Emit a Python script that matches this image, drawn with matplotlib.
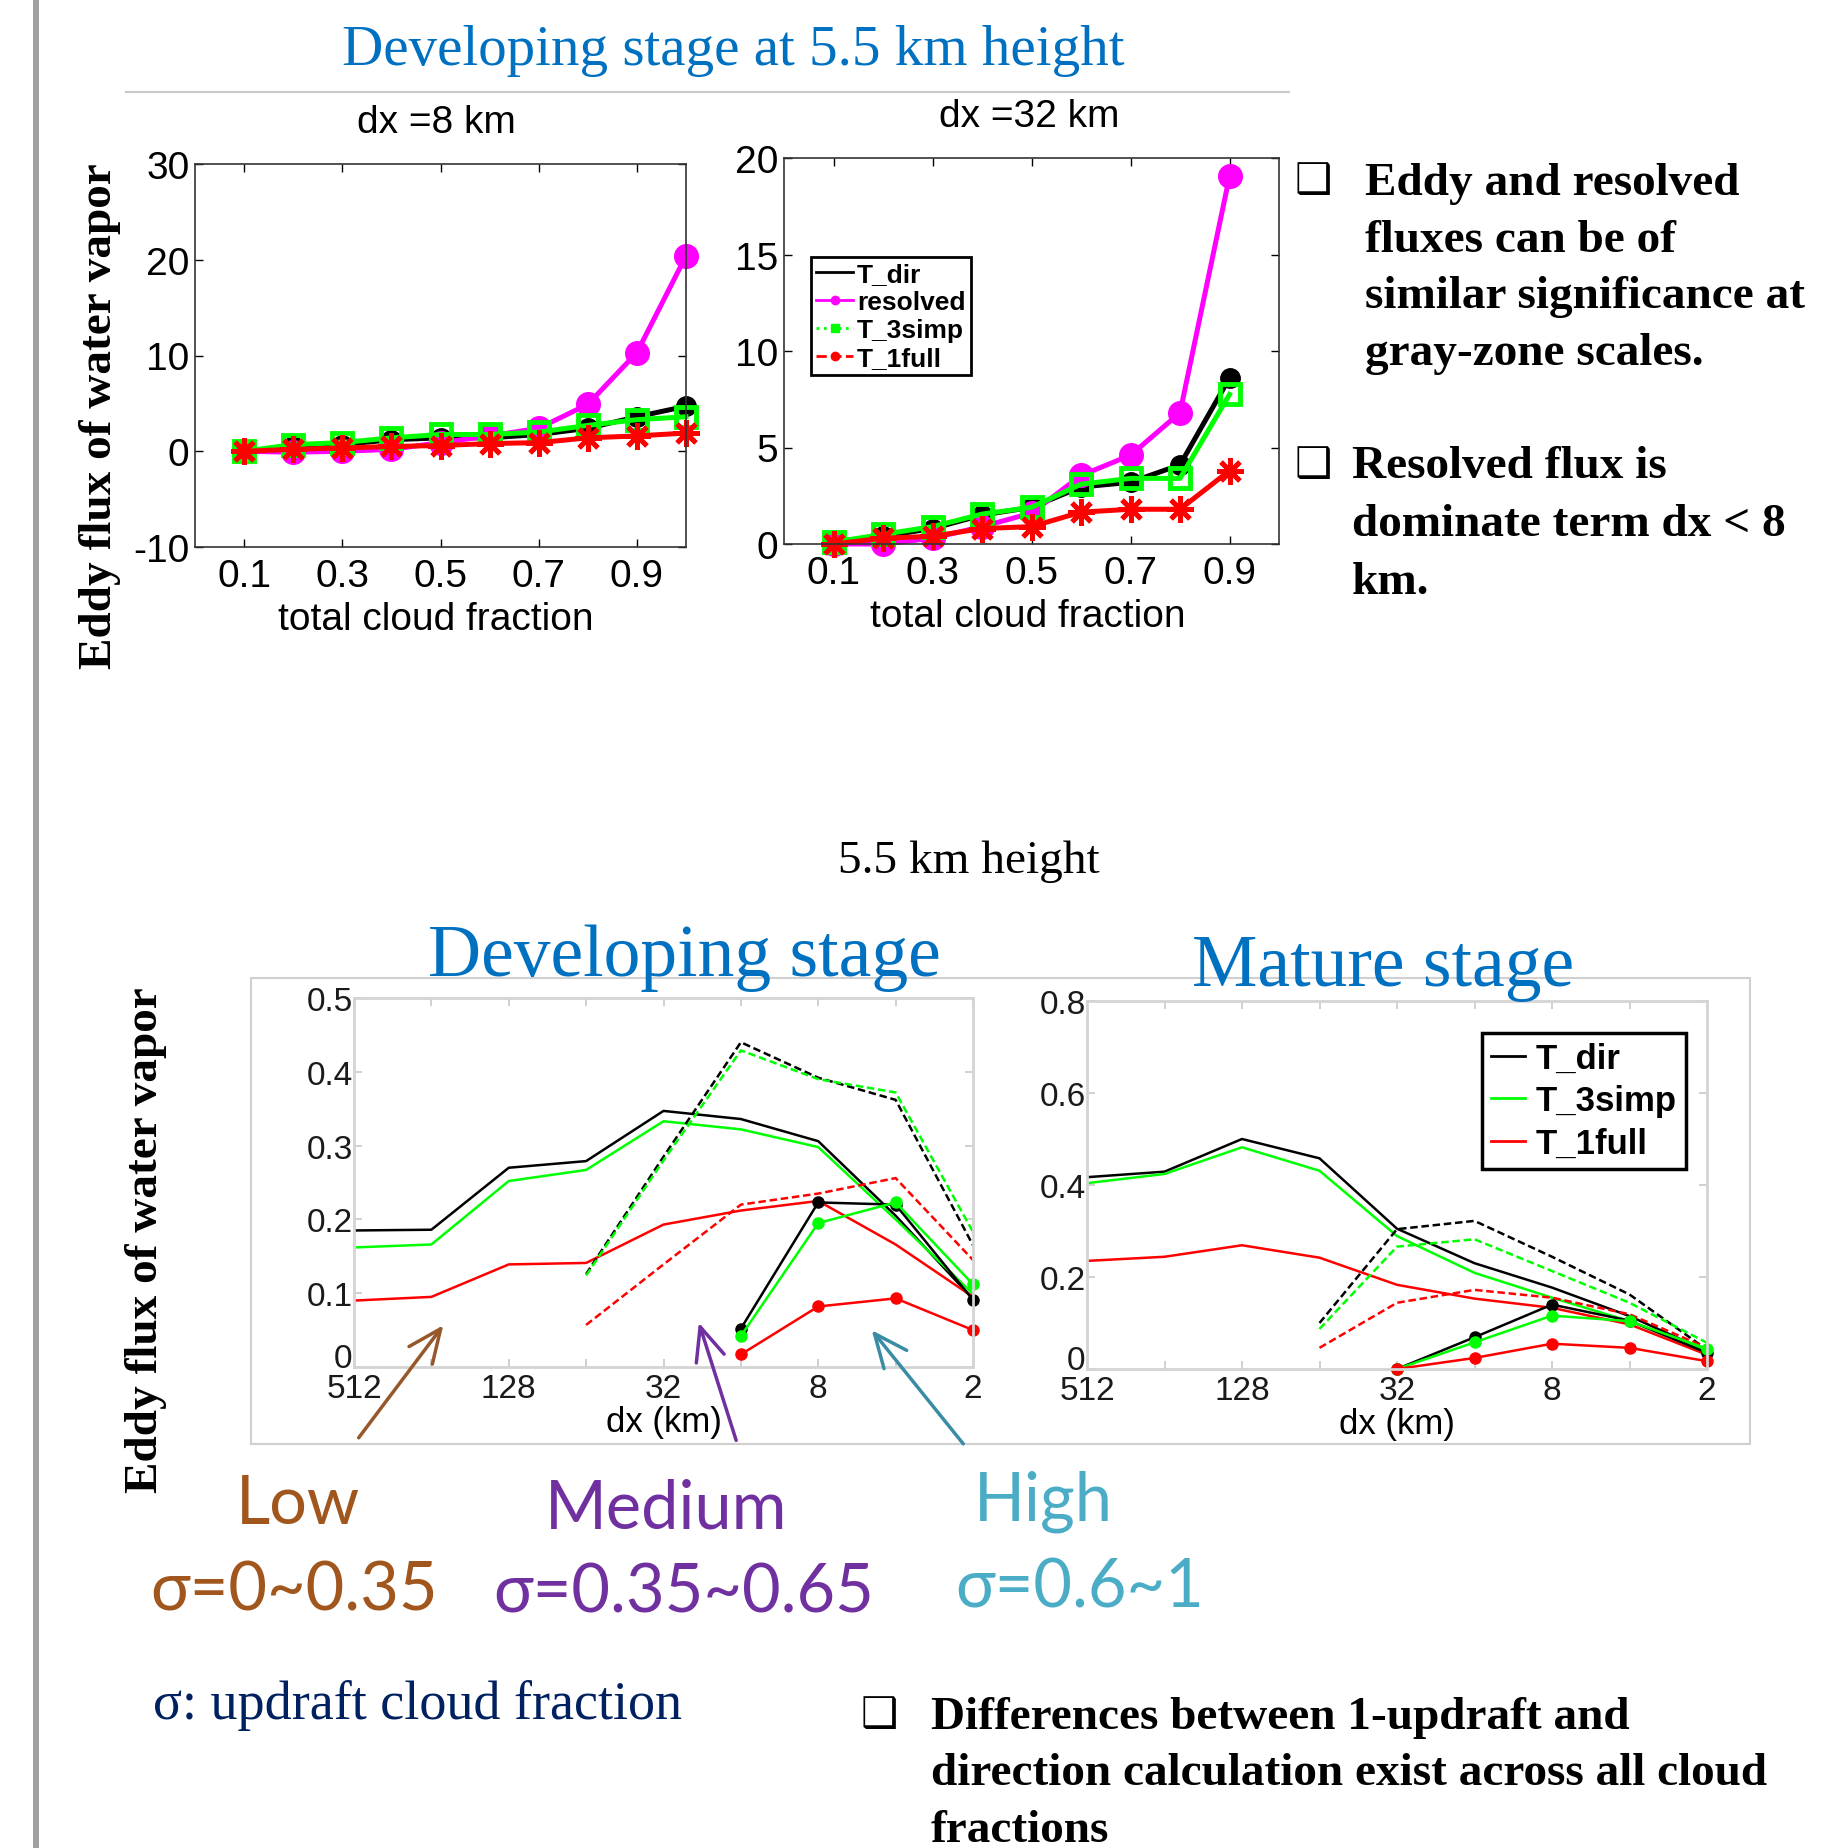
import matplotlib.pyplot as plt
from matplotlib.lines import Line2D
from matplotlib.patches import Rectangle, FancyArrowPatch
from matplotlib.ticker import FixedLocator, NullLocator

W, H = 1836, 1849
plt.rcParams["axes.unicode_minus"] = False

# --- top row: eddy flux vs total cloud fraction ---
cf_8 = [0.1, 0.2, 0.3, 0.4, 0.5, 0.6, 0.7, 0.8, 0.9, 1.0]
tdir_8 = [0.0, 0.5, 0.7, 1.2, 1.4, 1.4, 1.75, 2.4, 3.6, 4.7]
resolved_8 = [0.0, -0.1, 0.0, 0.2, 0.9, 1.6, 2.4, 4.9, 10.3, 20.4]
t3simp_8 = [0.0, 0.7, 0.9, 1.4, 1.75, 1.75, 2.0, 2.7, 3.3, 3.6]
t1full_8 = [0.0, 0.2, 0.35, 0.5, 0.6, 0.8, 0.9, 1.4, 1.6, 1.9]

cf_32 = [0.1, 0.2, 0.3, 0.4, 0.5, 0.6, 0.7, 0.8, 0.9]
tdir_32 = [0.1, 0.4, 0.8, 1.5, 1.9, 2.95, 3.2, 4.1, 8.6]
resolved_32 = [0.0, 0.0, 0.3, 0.9, 1.6, 3.55, 4.6, 6.8, 19.05]
t3simp_32 = [0.1, 0.5, 0.9, 1.55, 1.9, 3.1, 3.4, 3.4, 7.75]
t1full_32 = [0.0, 0.3, 0.4, 0.8, 0.9, 1.65, 1.8, 1.8, 3.8]

# --- bottom row: eddy flux vs grid spacing, 5.5 km ---
dx = [512, 256, 128, 64, 32, 16, 8, 4, 2]
dx_labels = ["512", "", "128", "", "32", "", "8", "", "2"]

# developing stage (low: all dx, medium: from 64 km, high: from 16 km)
dev_low_dir = [0.185, 0.186, 0.27, 0.279, 0.347, 0.336, 0.306, 0.205, 0.092]
dev_low_simp = [0.162, 0.166, 0.252, 0.267, 0.333, 0.322, 0.298, 0.20, 0.099]
dev_low_full = [0.09, 0.095, 0.139, 0.141, 0.193, 0.212, 0.225, 0.166, 0.095]
dev_med_dir = [0.126, 0.285, 0.44, 0.392, 0.362, 0.165]
dev_med_simp = [0.124, 0.28, 0.429, 0.39, 0.372, 0.183]
dev_med_full = [0.057, 0.139, 0.22, 0.235, 0.256, 0.145]
dev_high_dir = [0.052, 0.223, 0.22, 0.091]
dev_high_simp = [0.042, 0.195, 0.223, 0.112]
dev_high_full = [0.017, 0.082, 0.093, 0.05]

# mature stage (low: all dx, medium: from 64 km, high: from 32 km)
mat_low_dir = [0.417, 0.429, 0.50, 0.458, 0.305, 0.23, 0.177, 0.115, 0.039]
mat_low_simp = [0.404, 0.424, 0.482, 0.431, 0.289, 0.209, 0.155, 0.104, 0.039]
mat_low_full = [0.235, 0.244, 0.269, 0.242, 0.183, 0.153, 0.133, 0.097, 0.031]
mat_med_dir = [0.10, 0.304, 0.322, 0.244, 0.162, 0.042]
mat_med_simp = [0.087, 0.266, 0.282, 0.213, 0.144, 0.057]
mat_med_full = [0.046, 0.144, 0.172, 0.155, 0.119, 0.046]
mat_high_dir = [0.0, 0.069, 0.14, 0.105, 0.035]
mat_high_simp = [0.0, 0.058, 0.116, 0.104, 0.044]
mat_high_full = [0.0, 0.024, 0.055, 0.046, 0.017]

BLUE = "#0070C0"
BROWN = "#A0561C"
PURPLE = "#7030A0"
TEAL = "#4BACC6"
SANS = "Liberation Sans"
SERIF = "Liberation Serif"

fig = plt.figure(figsize=(W / 100, H / 100), dpi=100)


def px_axes(l, t, r, b):
    return fig.add_axes([l / W, 1 - b / H, (r - l) / W, (b - t) / H])


def ftext(x, y, s, **kw):
    return fig.text(x / W, 1 - y / H, s, **kw)


def style_top(ax):
    for sp in ax.spines.values():
        sp.set_color("#333333")
        sp.set_linewidth(1.2)
    ax.tick_params(direction="in", top=True, right=True, length=6,
                   width=1, labelsize=28, pad=8)
    for lab in ax.get_xticklabels() + ax.get_yticklabels():
        lab.set_fontfamily(SANS)


def draw_top(ax, cf, tdir, res, simp, full):
    kw = dict(lw=3.6, clip_on=False)
    ax.plot(cf, tdir, color="black", marker="o", ms=14, **kw)
    ax.plot(cf, res, color="magenta", marker="o", ms=17, **kw)
    ax.plot(cf, simp, color="#00FF00", marker="s", ms=14, mfc="none",
            mew=3.5, **kw)
    ax.plot(cf, full, color="red", marker=(8, 2, 0), ms=19, mew=3.5, **kw)
    ax.set_xlim(0, 1)
    ax.set_xticks([0.1, 0.3, 0.5, 0.7, 0.9])
    ax.set_xticklabels(["0.1", "0.3", "0.5", "0.7", "0.9"])


# ---- top-left: dx = 8 km ----
ax1 = px_axes(195, 165, 686, 548)
draw_top(ax1, cf_8, tdir_8, resolved_8, t3simp_8, t1full_8)
ax1.set_ylim(-10, 30)
ax1.set_yticks([-10, 0, 10, 20, 30])
style_top(ax1)
ax1.tick_params(axis="y", pad=4)

# ---- top-right: dx = 32 km ----
ax2 = px_axes(784, 159, 1279, 545)
draw_top(ax2, cf_32, tdir_32, resolved_32, t3simp_32, t1full_32)
ax2.set_ylim(0, 20)
ax2.set_yticks([0, 5, 10, 15, 20])
style_top(ax2)
ax2.tick_params(axis="y", pad=4)

top_handles = [
    Line2D([], [], color="black", lw=2),
    Line2D([], [], color="magenta", lw=2, marker="o", ms=6),
    Line2D([], [], color="#00FF00", lw=2, ls=":", marker="s", ms=6),
    Line2D([], [], color="red", lw=2, ls="--", marker="o", ms=6),
]
leg = fig.legend(top_handles, ["T_dir", "resolved", "T_3simp", "T_1full"],
                 loc="upper left", bbox_to_anchor=(811 / W, 1 - 258 / H),
                 prop={"family": SANS, "weight": "bold", "size": 19},
                 frameon=True, fancybox=False, framealpha=1,
                 edgecolor="black", borderpad=0.2, labelspacing=0.15,
                 handlelength=1.4, handletextpad=0.15, borderaxespad=0)
leg.get_frame().set_linewidth(2)

ftext(436, 133, "dx =8 km", ha="center", va="baseline", fontsize=28,
      family=SANS)
ftext(1029, 127, "dx =32 km", ha="center", va="baseline", fontsize=28,
      family=SANS)
ftext(436, 630, "total cloud fraction", ha="center", va="baseline",
      fontsize=28, family=SANS)
ftext(1028, 627, "total cloud fraction", ha="center", va="baseline",
      fontsize=28, family=SANS)
ftext(100, 416, "Eddy flux of water vapor", rotation=90, ha="center",
      va="center", fontsize=34, family=SERIF, weight="bold")

# title block
ftext(733, 65, "Developing stage at 5.5 km height", ha="center",
      va="baseline", fontsize=41, family=SERIF, color=BLUE)
fig.add_artist(Line2D([126 / W, 1289 / W], [1 - 93 / H, 1 - 93 / H],
                      transform=fig.transFigure, color="#C8C8C8", lw=1.5))
fig.add_artist(Rectangle((33 / W, 0), 6 / W, 1, transform=fig.transFigure,
                         color="#A0A0A0", lw=0))

# bullet notes on the right
bullet_kw = dict(family=[SERIF, "DejaVu Sans"], weight="bold", fontsize=34,
                 va="baseline", ha="left")
ftext(1295, 193, "\u2751", family="DejaVu Sans", fontsize=30, va="baseline")
for i, line in enumerate(["Eddy and resolved", "fluxes can be of",
                          "similar significance at", "gray-zone scales."]):
    ftext(1365, 195 + i * 56.6, line, **bullet_kw)
ftext(1295, 477, "\u2751", family="DejaVu Sans", fontsize=30, va="baseline")
for i, line in enumerate(["Resolved flux is", "dominate term dx < 8",
                          "km."]):
    ftext(1352, 478 + i * 58, line, **bullet_kw)

# ---- bottom row ----
ftext(969, 873, "5.5 km height", ha="center", va="baseline", fontsize=34,
      family=SERIF)
fig.add_artist(Rectangle((251 / W, 1 - 1445 / H), (1750 - 251) / W,
                         (1445 - 979) / H, transform=fig.transFigure,
                         fill=False, edgecolor="#D0D0D0", lw=1.5))
ftext(684, 976, "Developing stage", ha="center", va="baseline", fontsize=53,
      family=SERIF, color=BLUE)
ftext(1383, 986, "Mature stage", ha="center", va="baseline", fontsize=53,
      family=SERIF, color=BLUE)


def draw_bottom(ax, low, med, high, high_start):
    cols = ["black", "#00FF00", "red"]
    for vals, c in zip(low, cols):
        ax.plot(dx, vals, color=c, lw=1.8)
    for vals, c in zip(med, cols):
        ax.plot(dx[3:], vals, color=c, lw=1.8, ls=(0, (3, 1.5)))
    for vals, c in zip(high, cols):
        ax.plot(dx[high_start:], vals, color=c, lw=1.8, marker="o", ms=8,
                clip_on=False)
    ax.set_xscale("log", base=2)
    ax.set_xlim(512, 2)
    ax.xaxis.set_major_locator(FixedLocator(dx))
    ax.xaxis.set_minor_locator(NullLocator())
    ax.set_xticklabels(dx_labels)
    for sp in ax.spines.values():
        sp.set_color("#D4D4D4")
        sp.set_linewidth(2)
    ax.tick_params(direction="in", top=True, right=True, length=6, width=1.2,
                   color="#C8C8C8", labelsize=24, labelcolor="#1A1A1A")
    ax.tick_params(axis="x", pad=4)
    ax.tick_params(axis="y", pad=1)
    for lab in ax.get_xticklabels() + ax.get_yticklabels():
        lab.set_fontfamily(SANS)
    ax.set_xlabel("dx (km)", fontsize=25, family=SANS, labelpad=1)


def lift_zero_label(ax):
    # the "0" label sits on the bottom axis line
    ax.get_yticklabels()[0].set_verticalalignment("baseline")


ax3 = px_axes(354, 999, 973, 1368)
draw_bottom(ax3, [dev_low_dir, dev_low_simp, dev_low_full],
            [dev_med_dir, dev_med_simp, dev_med_full],
            [dev_high_dir, dev_high_simp, dev_high_full], 5)
ax3.set_ylim(0, 0.5)
ax3.set_yticks([0, 0.1, 0.2, 0.3, 0.4, 0.5])
ax3.set_yticklabels(["0", "0.1", "0.2", "0.3", "0.4", "0.5"])
lift_zero_label(ax3)

ax4 = px_axes(1087, 1002, 1707, 1370)
draw_bottom(ax4, [mat_low_dir, mat_low_simp, mat_low_full],
            [mat_med_dir, mat_med_simp, mat_med_full],
            [mat_high_dir, mat_high_simp, mat_high_full], 4)
ax4.set_ylim(0, 0.8)
ax4.set_yticks([0, 0.2, 0.4, 0.6, 0.8])
ax4.set_yticklabels(["0", "0.2", "0.4", "0.6", "0.8"])
lift_zero_label(ax4)

bot_handles = [Line2D([], [], color=c, lw=2)
               for c in ["black", "#00FF00", "red"]]
leg2 = fig.legend(bot_handles, ["T_dir", "T_3simp", "T_1full"],
                  loc="upper left", bbox_to_anchor=(1482 / W, 1 - 1034 / H),
                  prop={"family": SANS, "weight": "bold", "size": 25},
                  frameon=True, fancybox=False, framealpha=1,
                  edgecolor="black", borderpad=0.25, labelspacing=0.28,
                  handlelength=1.0, handletextpad=0.3, borderaxespad=0)
leg2.get_frame().set_linewidth(2.5)

ftext(146, 1240, "Eddy flux of water vapor", rotation=90, ha="center",
      va="center", fontsize=34, family=SERIF, weight="bold")

# regime arrows and labels
for (x0, y0, x1, y1), c in [((357, 1441, 445, 1324), "#96582A"),
                            ((737, 1444, 698, 1321), PURPLE),
                            ((965, 1447, 870, 1329), "#3A8CA5")]:
    fig.add_artist(FancyArrowPatch((x0 / W, 1 - y0 / H), (x1 / W, 1 - y1 / H),
                                   transform=fig.transFigure,
                                   arrowstyle="->,head_length=0.8,head_width=0.35",
                                   mutation_scale=30, lw=2.5, color=c))

cal = ["Lato", "Open Sans", "DejaVu Sans"]
ftext(236, 1524, "Low", fontsize=48, family=cal, color=BROWN)
ftext(545, 1529, "Medium", fontsize=48, family=cal, color=PURPLE)
ftext(974, 1521, "High", fontsize=48, family=cal, color=TEAL)
ftext(150, 1611, "\u03c3=0~0.35", fontsize=48, family=cal, color=BROWN)
ftext(493, 1613, "\u03c3=0.35~0.65", fontsize=48, family=cal, color=PURPLE)
ftext(955, 1608, "\u03c3=0.6~1", fontsize=48, family=cal, color=TEAL)

ftext(153, 1719, "\u03c3: updraft cloud fraction", fontsize=39, family=SERIF,
      color="#002060")

ftext(861, 1727, "\u2751", family="DejaVu Sans", fontsize=30, va="baseline")
for i, line in enumerate(["Differences between 1-updraft and",
                          "direction calculation exist across all cloud",
                          "fractions"]):
    ftext(931, 1729 + i * 56.5, line, **bullet_kw)

fig.savefig("out.png", dpi=100)
